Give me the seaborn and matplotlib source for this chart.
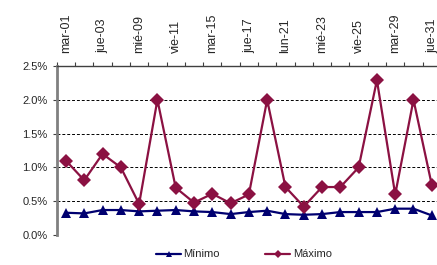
import pandas as pd
import seaborn as sns
import matplotlib.pyplot as plt
from matplotlib.ticker import FixedLocator, FuncFormatter

# Datos (en %)
dias = ["mar-01", "", "jue-03", "", "mié-09", "", "vie-11", "", "mar-15", "", "jue-17",
        "", "lun-21", "", "mié-23", "", "vie-25", "", "mar-29", "", "jue-31"]
minimo = [0.33, 0.32, 0.37, 0.37, 0.35, 0.36, 0.37, 0.35, 0.34, 0.31, 0.34,
          0.36, 0.31, 0.30, 0.31, 0.34, 0.34, 0.34, 0.39, 0.39, 0.29]
maximo = [1.10, 0.81, 1.20, 1.00, 0.46, 2.00, 0.70, 0.48, 0.61, 0.47, 0.60,
          2.00, 0.71, 0.42, 0.71, 0.71, 1.00, 2.29, 0.60, 2.00, 0.74]

n = len(dias)
df = pd.DataFrame({
    "x": list(range(n)) * 2,
    "valor": minimo + maximo,
    "serie": ["Mínimo"] * n + ["Máximo"] * n,
})

sns.set_style("white")
plt.rcParams["font.family"] = ["Liberation Sans", "DejaVu Sans"]

fig = plt.figure(figsize=(4.37, 2.65), dpi=100)
ax = fig.add_axes([0.130, 0.113, 0.879, 0.638])

colores = {"Mínimo": "#000070", "Máximo": "#8B1142"}
sns.lineplot(data=df, x="x", y="valor", hue="serie", style="serie",
             palette=colores, markers={"Mínimo": "^", "Máximo": "D"},
             dashes=False, linewidth=1.6, markersize=7, markeredgewidth=0,
             ax=ax, legend=True)

ax.set_xlim(-0.5, n - 0.5)
ax.set_ylim(0, 2.5)
ax.set_xlabel("")
ax.set_ylabel("")

# eje x arriba, etiquetas cada dos días
ax.xaxis.set_ticks_position("top")
ax.xaxis.set_label_position("top")
ax.set_xticks(range(0, n, 2))
ax.set_xticklabels([dias[i] for i in range(0, n, 2)], rotation=90, fontsize=9)
ax.tick_params(axis="x", which="major", length=0, pad=9)
ax.xaxis.set_minor_locator(FixedLocator([i - 0.5 for i in range(n + 1)]))
ax.tick_params(axis="x", which="minor", top=True, bottom=False, length=3,
               width=0.8, color="#404040", direction="out")

ax.set_yticks([0, 0.5, 1.0, 1.5, 2.0, 2.5])
ax.yaxis.set_major_formatter(FuncFormatter(lambda v, p: f"{v:.1f}%"))
ax.tick_params(axis="y", labelsize=8, length=3, width=0.8, color="#404040",
               direction="out", left=True)

for y in [0, 0.5, 1.0, 1.5, 2.0]:
    ax.axhline(y, color="black", linestyle=(0, (3, 2)), linewidth=0.7, zorder=0)

ax.spines["right"].set_visible(False)
ax.spines["bottom"].set_visible(False)
ax.spines["top"].set_color("#404040")
ax.spines["top"].set_linewidth(1.0)
ax.spines["left"].set_color("#808080")
ax.spines["left"].set_linewidth(2.0)

handles, labels = ax.get_legend_handles_labels()
orden = [labels.index("Mínimo"), labels.index("Máximo")]
ax.legend([handles[i] for i in orden], [labels[i] for i in orden],
          loc="center", bbox_to_anchor=(0.487, -0.115), ncol=2,
          frameon=False, fontsize=8, handlelength=2.25, columnspacing=4.1,
          handletextpad=0.2, markerscale=0.6, borderpad=0)

fig.savefig("out.png", dpi=100)
